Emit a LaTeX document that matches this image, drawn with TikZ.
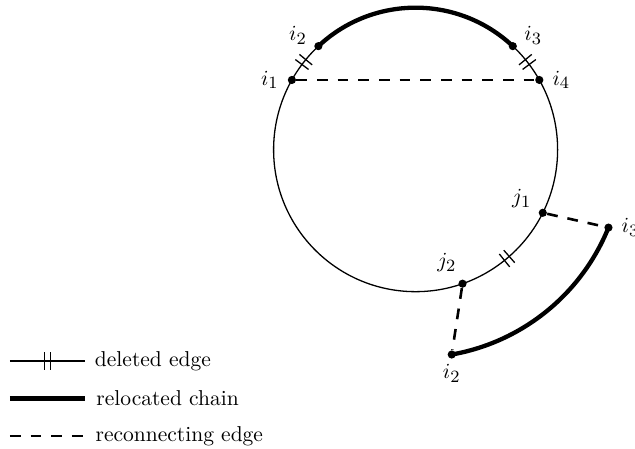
\documentclass[tikz,border=0pt]{standalone}
\usepackage{amsmath}
\usetikzlibrary{calc}
\DeclareMathSizes{10}{10}{8}{6}
\tikzset{
  ringedge/.style={line width=0.6pt},
  chain/.style={line width=2pt},
  reconnect/.style={line width=1.2pt,dash pattern=on 5pt off 4.6pt},
  vertex/.style={circle,fill=black,inner sep=0pt,minimum size=3.8pt},
  cutmark/.style={line width=0.6pt}
}
\newcommand{\ringr}{2.319}
\newcommand{\outr}{3.397}

\begin{document}
\begin{tikzpicture}[label distance=0.5pt]
  \useasboundingbox (0,0) rectangle (10.37,7.332);
  \coordinate (c) at (6.787,4.888);
  % tour
  \draw[ringedge] (c) circle[radius=\ringr];
  \node[vertex,label={180:$i_1$}] (i1) at ($(c)+(150.6:\ringr)$) {};
  \node[vertex,label={[yshift=-4.5pt]135:$i_2$}] (i2) at ($(c)+(133.2:\ringr)$) {};
  \node[vertex,label={[yshift=-4.5pt]45:$i_3$}] (i3) at ($(c)+(46.8:\ringr)$) {};
  \node[vertex,label={0:$i_4$}] (i4) at ($(c)+(29.4:\ringr)$) {};
  \node[vertex,label={[yshift=-3pt]135:$j_1$}] (j1) at ($(c)+(-26.4:\ringr)$) {};
  \node[vertex,label={[xshift=2.5pt]135:$j_2$}] (j2) at ($(c)+(-70.7:\ringr)$) {};
  \draw[chain] (i2.center) arc[start angle=133.2,end angle=46.8,radius=\ringr];
  % deleted edges
  \foreach \a in {141.9,38.1,-50}{
    \draw[cutmark] ($(c)+({\a+1.25}:{\ringr-0.135})$) -- ($(c)+({\a+1.25}:{\ringr+0.135})$);
    \draw[cutmark] ($(c)+({\a-1.25}:{\ringr-0.135})$) -- ($(c)+({\a-1.25}:{\ringr+0.135})$);
  }
  % relocated chain
  \node[vertex,label={0:$i_3$}] (i3m) at ($(c)+(-22:\outr)$) {};
  \node[vertex,label={[label distance=-1pt]270:$i_2$}] (i2m) at ($(c)+(-80:\outr)$) {};
  \draw[chain] (i3m.center) arc[start angle=-22,end angle=-80,radius=\outr];
  \draw[reconnect] (i1) -- (i4);
  \draw[reconnect] (j1) -- (i3m);
  \draw[reconnect] (j2) -- (i2m);
  % legend
  \coordinate (del0) at (0.163,1.437);
  \coordinate (del1) at (1.388,1.437);
  \coordinate (rel0) at (0.163,0.825);
  \coordinate (rel1) at (1.388,0.825);
  \coordinate (rec0) at (0.163,0.212);
  \coordinate (rec1) at (1.388,0.212);
  \draw[ringedge] (del0) -- (del1) node[right,xshift=1pt] (keydel) {deleted edge};
  \draw[cutmark] (0.723,1.297) -- (0.723,1.577);
  \draw[cutmark] (0.828,1.297) -- (0.828,1.577);
  \draw[chain] (rel0) -- (rel1) node[right,xshift=1pt] (keyrel) {relocated chain};
  \draw[reconnect] (rec0) -- (rec1) node[right,xshift=1pt] (keyrec) {reconnecting edge};
\end{tikzpicture}
\end{document}
